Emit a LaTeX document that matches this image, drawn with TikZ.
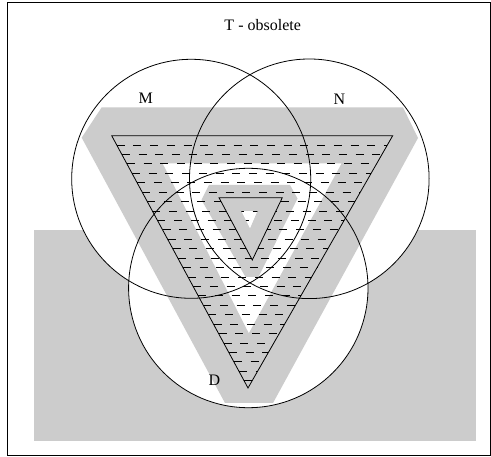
\documentclass[tikz,border=0pt]{standalone}
\usepackage{fontspec}
\setmainfont{Liberation Serif}
\usetikzlibrary{calc}
\definecolor{bandgray}{RGB}{204,204,204}
\begin{document}
\begin{tikzpicture}[x=1pt,y=-1pt,
  outline/.style={draw=black,line width=0.8pt},
  hatch/.style={draw=black,line width=0.9pt,dash pattern=on 8pt off 8.7pt},
  lbl/.style={font=\fontsize{16}{19}\selectfont,inner sep=0pt,anchor=base},
  band/.style={fill=bandgray,even odd rule}]
\useasboundingbox (0,0) rectangle (491,457);
% centres of the circles
\coordinate (cM) at (191.2,178.8);
\coordinate (cN) at (309.3,178.8);
\coordinate (cD) at (248.3,288);
% big triangle
\coordinate (A) at (111.7,135.7);
\coordinate (B) at (392.7,135.7);
\coordinate (C) at (248,388);
% small triangle
\coordinate (a) at (219,197.7);
\coordinate (b) at (282.3,197.7);
\coordinate (c) at (252.3,260);
% background rectangle
\fill[bandgray] (34,230) rectangle (476,441);
% white discs
\fill[white] (cM) circle[radius=119.5pt];
\fill[white] (cN) circle[radius=119.8pt];
\fill[white] (cD) circle[radius=119.7pt];
% big band
\path[band] (101.7,107.3) -- (403,107.3) -- (418,138) -- (273,403) -- (225,403) -- (81.7,137.7) -- cycle
  (162.5,163.3) -- (341.7,163.3) -- (248.8,333.3) -- cycle;
% small band
\path[band] (209,185) -- (290,185) -- (297.5,198.5) -- (258.5,277) -- (245.5,277) -- (201.5,200) -- cycle
  (241,211) -- (257.7,211) -- (250,229) -- cycle;
% hatching
\foreach \k in {0,...,25}{
  \pgfmathsetmacro\tt{(9.3+9.43*\k)/252.3}
  \draw[hatch] ($(A)!\tt!(C)$) -- ($(B)!\tt!(C)$);
}
% restore the inside of the small triangle
\path[band] (a) -- (b) -- (c) -- cycle
  (241,211) -- (257.7,211) -- (250,229) -- cycle;
% triangle outlines
\draw[outline,line join=miter] (A) -- (B) -- (C) -- cycle;
\draw[outline,line join=miter] (a) -- (b) -- (c) -- cycle;
% circle outlines
\draw[outline] (cM) circle[radius=119.5pt];
\draw[outline] (cN) circle[radius=119.8pt];
\draw[outline] (cD) circle[radius=119.7pt];
% labels
\node[lbl] (title) at (262.7,31) {T - obsolete};
\node[lbl] (lM) at (145.7,103.3) {M};
\node[lbl] (lN) at (339.3,104.3) {N};
\node[lbl] (lD) at (214.3,385.7) {D};
% frame
\draw[line width=0.9pt] (7.3,2.7) rectangle (490,455.5);
\end{tikzpicture}
\end{document}
